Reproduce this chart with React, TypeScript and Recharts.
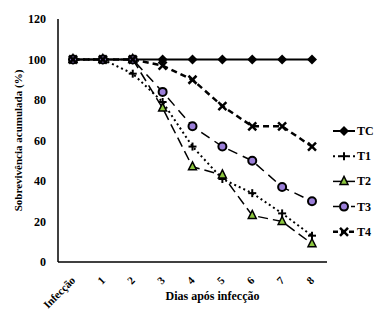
import { LineChart, Line, XAxis, YAxis, Legend, Label } from "recharts";

const days = ["Infecção", "1", "2", "3", "4", "5", "6", "7", "8"];
const tc = [100, 100, 100, 100, 100, 100, 100, 100, 100];
const t1 = [100, 100, 93, 79, 57, 41, 34, 24, 13];
const t2 = [100, 100, 100, 76, 47, 43, 23, 20, 9];
const t3 = [100, 100, 100, 84, 67, 57, 50, 37, 30];
const t4 = [100, 100, 100, 97, 90, 77, 67, 67, 57];
const yTicks = [0, 20, 40, 60, 80, 100, 120];

const data = days.map((d, i) => ({ day: d, TC: tc[i], T1: t1[i], T2: t2[i], T3: t3[i], T4: t4[i] }));

const font = "'Liberation Serif', 'Times New Roman', serif";

// marker shapes, drawn around (cx, cy)
function Marker({ kind, cx, cy }: { kind: string; cx: number; cy: number }) {
  if (kind === "TC")
    return <polygon points={`${cx},${cy - 5} ${cx + 5},${cy} ${cx},${cy + 5} ${cx - 5},${cy}`} fill="#000" />;
  if (kind === "T1")
    return (
      <g stroke="#000" strokeWidth={2}>
        <line x1={cx - 4} y1={cy} x2={cx + 4} y2={cy} />
        <line x1={cx} y1={cy - 4} x2={cx} y2={cy + 4} />
      </g>
    );
  if (kind === "T2")
    return <polygon points={`${cx},${cy - 5} ${cx + 4},${cy + 3} ${cx - 4},${cy + 3}`} fill="#8cc63f" stroke="#000" strokeWidth={1.5} />;
  if (kind === "T3") return <circle cx={cx} cy={cy} r={4} fill="#9b7fd8" stroke="#000" strokeWidth={2} />;
  return (
    <g stroke="#000" strokeWidth={2.5}>
      <line x1={cx - 4} y1={cy - 4} x2={cx + 4} y2={cy + 4} />
      <line x1={cx - 4} y1={cy + 4} x2={cx + 4} y2={cy - 4} />
    </g>
  );
}

const series = [
  { key: "TC", dash: undefined, width: 2 },
  { key: "T1", dash: "2 3", width: 2 },
  { key: "T2", dash: "10 5", width: 1.5 },
  { key: "T3", dash: "10 6", width: 1.5 },
  { key: "T4", dash: "6 4", width: 2.5 },
];

const legendDash: Record<string, string | undefined> = { TC: undefined, T1: "2 3", T2: undefined, T3: "6 3", T4: "5 3" };

function LegendBox() {
  return (
    <svg width={50} height={125} style={{ display: "block" }}>
      {series.map((s, i) => {
        const y = 9 + i * 25.2;
        return (
          <g key={s.key}>
            <line x1={6} y1={y} x2={28} y2={y} stroke="#000" strokeWidth={s.width} strokeDasharray={legendDash[s.key]} />
            <Marker kind={s.key} cx={17} cy={y} />
            <text x={30} y={y + 4} fontFamily={font} fontWeight="bold" fontSize={12} fill="#000">
              {s.key}
            </text>
          </g>
        );
      })}
    </svg>
  );
}

function XTick({ x, y, payload }: any) {
  const ax = x + 3;
  const ay = y + 11;
  return (
    <text x={ax} y={ay} transform={`rotate(-45, ${ax}, ${ay})`} textAnchor="end" fontFamily={font} fontWeight="bold" fontSize={11} fill="#000">
      {payload.value}
    </text>
  );
}

export default function App() {
  return (
    <div style={{ position: "absolute", left: 0, top: 0, background: "#fff" }}>
      <LineChart width={380} height={309} data={data} margin={{ top: 19, right: 3, left: 18, bottom: 7 }}>
        <XAxis
          dataKey="day"
          tick={<XTick />}
          tickLine={false}
          interval={0}
          height={40}
          padding={{ left: 15, right: 15 }}
          axisLine={{ stroke: "#000", strokeWidth: 1.5 }}
        >
          <Label value="Dias após infecção" position="insideBottom" dx={20} offset={2} style={{ fontFamily: font, fontWeight: "bold", fontSize: 12, fill: "#000" }} />
        </XAxis>
        <YAxis
          domain={[0, 120]}
          ticks={yTicks}
          width={40}
          tickLine={false}
          tickMargin={6}
          axisLine={{ stroke: "#000", strokeWidth: 1.5 }}
          tick={{ fontFamily: font, fontWeight: "bold", fontSize: 12, fill: "#000" }}
        >
          <Label value="Sobrevivência acumulada (%)" angle={-90} position="insideLeft" dx={-5} style={{ textAnchor: "middle", fontFamily: font, fontWeight: "bold", fontSize: 11, fill: "#000" }} />
        </YAxis>
        <Legend layout="vertical" align="right" verticalAlign="top" width={50} wrapperStyle={{ top: 122, right: 3 }} content={<LegendBox />} />
        {series.map((s) => (
          <Line
            key={s.key}
            dataKey={s.key}
            stroke="#000"
            strokeWidth={s.width}
            strokeDasharray={s.dash}
            isAnimationActive={false}
            dot={(p: any) => <Marker key={`${s.key}-${p.index}`} kind={s.key} cx={p.cx} cy={p.cy} />}
            activeDot={false}
          />
        ))}
      </LineChart>
    </div>
  );
}
